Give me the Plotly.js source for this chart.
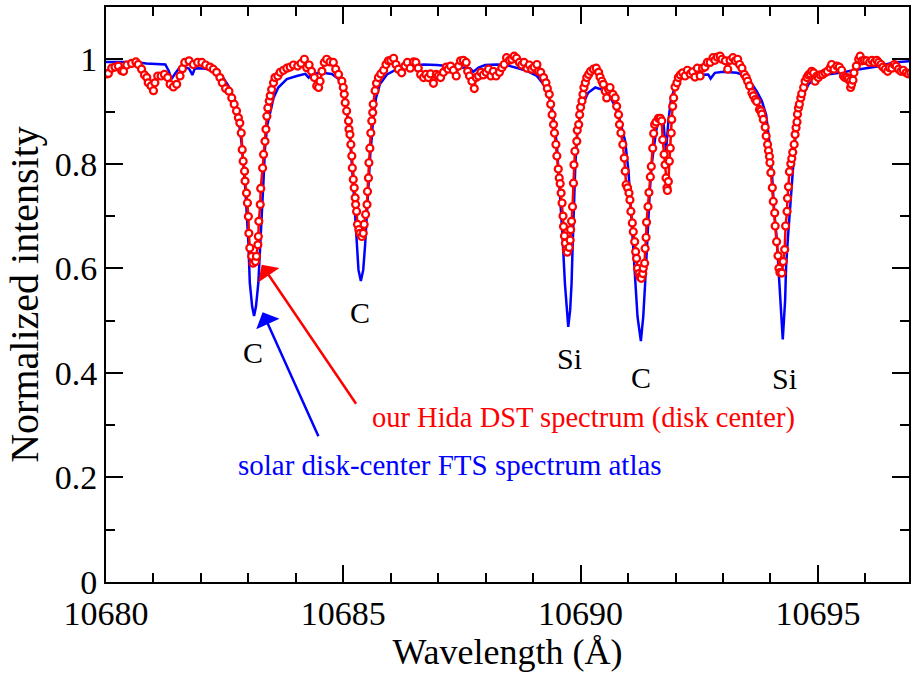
<!DOCTYPE html>
<html>
<head>
<meta charset="utf-8">
<script src="https://cdn.plot.ly/plotly-3.0.1.min.js"></script>
<style>html,body{margin:0;padding:0;background:#fff;}#chart{width:912px;height:675px;}</style>
</head>
<body>
<div id="chart"></div>
<script>
// FTS atlas (blue)
const ftsWavelength = [10680.00,10680.30,10680.60,10680.85,10681.10,10681.25,10681.32,10681.38,10681.45,10681.55,10681.63,10681.75,10681.82,10681.87,10681.95,10682.10,10682.30,10682.44,10682.58,10682.72,10682.79,10682.86,10682.93,10683.00,10683.03,10683.08,10683.12,10683.16,10683.21,10683.25,10683.28,10683.32,10683.35,10683.40,10683.46,10683.53,10683.63,10683.81,10684.02,10684.20,10684.27,10684.34,10684.55,10684.76,10684.90,10685.00,10685.07,10685.14,10685.21,10685.25,10685.28,10685.32,10685.37,10685.42,10685.46,10685.49,10685.53,10685.57,10685.60,10685.63,10685.69,10685.77,10685.92,10686.13,10686.41,10686.69,10686.97,10687.25,10687.53,10687.67,10687.74,10687.85,10687.99,10688.23,10688.44,10688.66,10688.87,10689.08,10689.22,10689.32,10689.41,10689.50,10689.57,10689.62,10689.67,10689.71,10689.74,10689.78,10689.81,10689.83,10689.86,10689.89,10689.93,10689.99,10690.06,10690.16,10690.31,10690.45,10690.59,10690.73,10690.83,10690.94,10691.01,10691.07,10691.12,10691.16,10691.20,10691.27,10691.32,10691.36,10691.39,10691.43,10691.46,10691.50,10691.53,10691.59,10691.64,10691.70,10691.75,10691.80,10691.85,10691.90,10691.99,10692.10,10692.31,10692.59,10692.69,10692.74,10692.83,10693.01,10693.29,10693.43,10693.57,10693.71,10693.82,10693.91,10693.98,10694.03,10694.08,10694.13,10694.17,10694.20,10694.26,10694.31,10694.33,10694.37,10694.43,10694.49,10694.54,10694.61,10694.70,10694.80,10694.94,10695.19,10695.47,10695.75,10696.03,10696.31,10696.59,10696.87,10697.00];
const ftsIntensity = [0.995,0.995,0.995,0.992,0.991,0.990,0.978,0.962,0.972,0.984,0.986,0.982,0.970,0.982,0.983,0.982,0.977,0.968,0.949,0.920,0.888,0.837,0.760,0.650,0.572,0.527,0.509,0.527,0.572,0.635,0.699,0.770,0.830,0.875,0.900,0.926,0.946,0.962,0.968,0.972,0.965,0.972,0.974,0.972,0.962,0.940,0.900,0.850,0.760,0.700,0.645,0.597,0.576,0.597,0.645,0.699,0.763,0.820,0.850,0.888,0.926,0.952,0.971,0.981,0.987,0.990,0.989,0.987,0.985,0.983,0.976,0.984,0.989,0.990,0.989,0.984,0.978,0.968,0.952,0.933,0.901,0.837,0.741,0.660,0.571,0.520,0.488,0.520,0.571,0.635,0.730,0.800,0.860,0.894,0.917,0.936,0.946,0.942,0.933,0.910,0.882,0.843,0.785,0.700,0.620,0.560,0.507,0.461,0.507,0.571,0.630,0.699,0.750,0.800,0.825,0.862,0.885,0.893,0.875,0.824,0.881,0.920,0.949,0.965,0.970,0.970,0.971,0.963,0.974,0.976,0.974,0.970,0.958,0.939,0.920,0.894,0.840,0.785,0.709,0.660,0.603,0.539,0.464,0.539,0.603,0.660,0.741,0.818,0.869,0.907,0.933,0.952,0.965,0.971,0.974,0.979,0.983,0.987,0.994,0.997,0.997];

// Hida DST spectrum (red)
const dstWavelength = [10680.02,10680.05,10680.12,10680.19,10680.26,10680.33,10680.37,10680.44,10680.54,10680.63,10680.68,10680.75,10680.81,10680.86,10680.89,10680.95,10681.00,10681.03,10681.09,10681.16,10681.23,10681.30,10681.35,10681.42,10681.49,10681.56,10681.61,10681.66,10681.75,10681.84,10681.93,10682.02,10682.10,10682.19,10682.26,10682.33,10682.40,10682.45,10682.52,10682.59,10682.65,10682.70,10682.75,10682.79,10682.82,10682.85,10682.87,10682.89,10682.92,10682.93,10682.96,10682.98,10683.00,10683.01,10683.03,10683.07,10683.10,10683.15,10683.17,10683.20,10683.21,10683.22,10683.25,10683.26,10683.30,10683.32,10683.35,10683.37,10683.39,10683.41,10683.44,10683.46,10683.49,10683.53,10683.56,10683.62,10683.67,10683.74,10683.81,10683.88,10683.95,10684.04,10684.11,10684.18,10684.23,10684.28,10684.33,10684.39,10684.44,10684.48,10684.51,10684.55,10684.60,10684.65,10684.72,10684.79,10684.84,10684.90,10684.97,10685.00,10685.02,10685.04,10685.07,10685.11,10685.12,10685.14,10685.16,10685.18,10685.19,10685.21,10685.23,10685.25,10685.26,10685.28,10685.30,10685.33,10685.35,10685.39,10685.42,10685.44,10685.47,10685.50,10685.51,10685.53,10685.54,10685.56,10685.58,10685.60,10685.62,10685.63,10685.67,10685.70,10685.74,10685.79,10685.85,10685.90,10685.95,10686.00,10686.06,10686.11,10686.16,10686.23,10686.30,10686.35,10686.41,10686.48,10686.53,10686.58,10686.63,10686.69,10686.74,10686.79,10686.84,10686.90,10686.96,10687.00,10687.05,10687.11,10687.17,10687.21,10687.26,10687.32,10687.38,10687.43,10687.47,10687.53,10687.59,10687.62,10687.66,10687.71,10687.76,10687.80,10687.85,10687.90,10687.95,10688.01,10688.06,10688.11,10688.16,10688.22,10688.29,10688.34,10688.39,10688.44,10688.50,10688.55,10688.60,10688.65,10688.71,10688.76,10688.81,10688.87,10688.92,10688.97,10689.02,10689.08,10689.11,10689.16,10689.22,10689.27,10689.30,10689.34,10689.37,10689.40,10689.43,10689.45,10689.48,10689.50,10689.53,10689.55,10689.57,10689.59,10689.61,10689.63,10689.64,10689.66,10689.68,10689.70,10689.72,10689.76,10689.78,10689.79,10689.81,10689.83,10689.85,10689.86,10689.88,10689.92,10689.93,10689.96,10689.98,10690.00,10690.03,10690.05,10690.07,10690.10,10690.13,10690.17,10690.21,10690.27,10690.33,10690.38,10690.41,10690.45,10690.48,10690.52,10690.55,10690.59,10690.62,10690.68,10690.73,10690.76,10690.80,10690.82,10690.85,10690.89,10690.92,10690.94,10690.96,10690.99,10691.02,10691.04,10691.06,10691.09,10691.11,10691.14,10691.16,10691.18,10691.20,10691.23,10691.25,10691.28,10691.31,10691.32,10691.35,10691.36,10691.38,10691.39,10691.42,10691.44,10691.47,10691.49,10691.52,10691.54,10691.56,10691.59,10691.64,10691.68,10691.71,10691.73,10691.76,10691.78,10691.80,10691.82,10691.83,10691.85,10691.87,10691.89,10691.91,10691.92,10691.94,10691.96,10691.99,10692.03,10692.06,10692.10,10692.15,10692.20,10692.25,10692.31,10692.36,10692.41,10692.46,10692.52,10692.57,10692.62,10692.67,10692.73,10692.79,10692.83,10692.88,10692.94,10692.98,10693.05,10693.10,10693.15,10693.21,10693.26,10693.31,10693.35,10693.40,10693.45,10693.49,10693.52,10693.56,10693.61,10693.64,10693.68,10693.71,10693.77,10693.80,10693.82,10693.85,10693.89,10693.91,10693.94,10693.96,10693.98,10693.99,10694.01,10694.04,10694.06,10694.09,10694.10,10694.13,10694.16,10694.18,10694.20,10694.24,10694.27,10694.30,10694.32,10694.35,10694.36,10694.38,10694.40,10694.43,10694.45,10694.47,10694.50,10694.52,10694.54,10694.56,10694.57,10694.59,10694.61,10694.64,10694.66,10694.70,10694.73,10694.77,10694.80,10694.84,10694.87,10694.91,10694.94,10694.98,10695.01,10695.05,10695.10,10695.15,10695.20,10695.26,10695.29,10695.34,10695.40,10695.45,10695.50,10695.54,10695.57,10695.61,10695.64,10695.68,10695.69,10695.71,10695.74,10695.76,10695.81,10695.86,10695.89,10695.93,10695.98,10696.03,10696.09,10696.14,10696.19,10696.24,10696.28,10696.33,10696.37,10696.42,10696.47,10696.51,10696.56,10696.61,10696.65,10696.70,10696.75,10696.80,10696.86,10696.91,10696.96];
const dstIntensity = [0.972,0.973,0.983,0.985,0.987,0.978,0.977,0.989,0.992,0.995,0.990,0.981,0.970,0.965,0.955,0.949,0.940,0.955,0.968,0.968,0.971,0.965,0.952,0.947,0.952,0.968,0.982,0.994,0.997,0.990,0.994,0.994,0.989,0.985,0.981,0.975,0.965,0.955,0.944,0.939,0.926,0.914,0.901,0.888,0.878,0.859,0.827,0.805,0.786,0.767,0.744,0.725,0.699,0.667,0.639,0.623,0.610,0.613,0.623,0.645,0.661,0.690,0.722,0.753,0.792,0.818,0.843,0.866,0.891,0.907,0.920,0.930,0.942,0.955,0.965,0.968,0.975,0.979,0.983,0.985,0.989,0.987,0.992,1.000,0.984,0.989,0.977,0.965,0.949,0.946,0.958,0.977,0.994,1.000,0.995,0.994,0.981,0.971,0.958,0.946,0.933,0.917,0.901,0.882,0.866,0.856,0.837,0.815,0.792,0.770,0.754,0.735,0.722,0.709,0.684,0.674,0.667,0.661,0.667,0.684,0.703,0.722,0.747,0.773,0.802,0.830,0.859,0.882,0.898,0.914,0.940,0.954,0.965,0.972,0.979,0.990,0.997,0.998,1.002,0.990,0.981,0.974,0.987,0.994,0.983,0.995,0.994,0.983,0.971,0.965,0.971,0.965,0.972,0.954,0.971,0.968,0.965,0.975,0.985,0.981,0.987,0.979,0.968,0.987,0.997,0.998,0.994,0.977,0.968,0.958,0.944,0.965,0.968,0.975,0.970,0.975,0.981,0.968,0.977,0.968,0.975,0.984,0.990,1.003,0.998,1.000,1.006,1.002,0.994,0.989,0.994,0.983,0.989,0.981,0.985,0.990,0.977,0.975,0.965,0.955,0.944,0.933,0.914,0.894,0.875,0.859,0.837,0.815,0.790,0.773,0.762,0.744,0.725,0.700,0.680,0.662,0.648,0.635,0.631,0.640,0.654,0.674,0.690,0.718,0.763,0.798,0.824,0.843,0.864,0.875,0.894,0.908,0.920,0.933,0.946,0.955,0.965,0.971,0.977,0.981,0.983,0.975,0.966,0.958,0.952,0.939,0.926,0.942,0.946,0.933,0.926,0.910,0.894,0.875,0.859,0.837,0.811,0.786,0.760,0.754,0.744,0.731,0.709,0.687,0.670,0.651,0.632,0.619,0.600,0.590,0.584,0.581,0.590,0.600,0.610,0.638,0.659,0.688,0.718,0.745,0.775,0.795,0.830,0.858,0.875,0.880,0.887,0.887,0.882,0.846,0.818,0.798,0.773,0.754,0.749,0.766,0.805,0.830,0.859,0.885,0.910,0.926,0.947,0.955,0.965,0.970,0.974,0.968,0.979,0.972,0.976,0.966,0.983,0.968,0.983,0.985,0.994,0.994,1.003,0.998,1.004,1.006,1.000,0.997,0.981,0.998,1.003,0.997,1.000,0.990,0.983,0.971,0.965,0.958,0.949,0.936,0.930,0.923,0.919,0.904,0.901,0.895,0.885,0.870,0.853,0.837,0.825,0.814,0.802,0.783,0.754,0.728,0.706,0.681,0.651,0.624,0.600,0.592,0.591,0.613,0.636,0.681,0.709,0.734,0.756,0.785,0.800,0.810,0.822,0.837,0.856,0.869,0.880,0.895,0.907,0.914,0.926,0.934,0.946,0.958,0.965,0.970,0.972,0.977,0.974,0.958,0.968,0.965,0.970,0.971,0.974,0.977,0.984,0.990,0.981,0.987,0.985,0.979,0.968,0.965,0.965,0.962,0.958,0.946,0.952,0.960,0.974,0.987,1.000,1.006,0.997,0.998,0.997,0.994,0.998,0.994,0.998,0.994,0.990,0.985,0.981,0.977,0.984,0.983,0.990,0.987,0.981,0.977,0.979,0.974,0.972,0.974];

// Line identifications
const lineLabels = ["C", "C", "Si", "C", "Si"];
const lineLabelX = [10683.10, 10685.35, 10689.76, 10691.27, 10694.29];
const lineLabelY = [0.44, 0.516, 0.428, 0.392, 0.390];

const serif = "Liberation Serif";
const RED = "rgb(255,0,0)";
const BLUE = "rgb(0,0,255)";

const traces = [
  {x: ftsWavelength, y: ftsIntensity, type: "scatter", mode: "lines",
   line: {color: BLUE, width: 2.5}, name: "FTS atlas", hoverinfo: "x+y"},
  {x: dstWavelength, y: dstIntensity, type: "scatter", mode: "lines+markers",
   line: {color: RED, width: 2.5},
   marker: {symbol: "circle", size: 7, color: "white", line: {color: RED, width: 2.2}},
   name: "Hida DST", hoverinfo: "x+y"}
];

const annotations = lineLabels.map((t, i) => ({
  x: lineLabelX[i], y: lineLabelY[i], xref: "x", yref: "y", text: t,
  showarrow: false, font: {family: serif, size: 30, color: "black"}
}));
annotations.push(
  {x: 10690.07, y: 0.313, xref: "x", yref: "y", text: "our Hida DST spectrum (disk center)",
   showarrow: false, font: {family: serif, size: 28.5, color: RED}},
  {x: 10687.25, y: 0.223, xref: "x", yref: "y", text: "solar disk-center FTS spectrum atlas",
   showarrow: false, font: {family: serif, size: 29, color: BLUE}},
  {x: 10683.28, y: 0.607, xref: "x", yref: "y", ax: 10685.29, ay: 0.338, axref: "x", ayref: "y",
   text: "", showarrow: true, arrowhead: 1, arrowsize: 1.7, arrowwidth: 2.5, arrowcolor: RED},
  {x: 10683.30, y: 0.516, xref: "x", yref: "y", ax: 10684.49, ay: 0.276, axref: "x", ayref: "y",
   text: "", showarrow: true, arrowhead: 1, arrowsize: 1.7, arrowwidth: 2.5, arrowcolor: BLUE}
);

const axisCommon = {
  showline: true, linecolor: "black", linewidth: 2, mirror: "ticks",
  ticks: "inside", ticklen: 17, tickwidth: 2, tickcolor: "black",
  showgrid: false, zeroline: false,
  tickfont: {family: serif, size: 34, color: "black"}
};

const layout = {
  width: 912, height: 675,
  margin: {l: 106, r: 3, t: 7, b: 93},
  paper_bgcolor: "white", plot_bgcolor: "white",
  showlegend: false,
  font: {family: serif, color: "black"},
  xaxis: Object.assign({}, axisCommon, {
    range: [10680, 10696.92], tick0: 10680, dtick: 5, tickformat: "d",
    minor: {dtick: 1, tick0: 10680, ticks: "inside", ticklen: 9, tickwidth: 2, tickcolor: "black", showgrid: false},
    title: {text: "Wavelength (Å)", font: {family: serif, size: 36, color: "black"}, standoff: 6}
  }),
  yaxis: Object.assign({}, axisCommon, {
    range: [0, 1.1], tick0: 0, dtick: 0.2,
    minor: {dtick: 0.1, tick0: 0, ticks: "inside", ticklen: 9, tickwidth: 2, tickcolor: "black", showgrid: false},
    title: {text: "Normalized intensity", font: {family: serif, size: 40, color: "black"}, standoff: 4}
  }),
  annotations: annotations
};

Plotly.newPlot("chart", traces, layout, {displayModeBar: false, staticPlot: true});
</script>
</body>
</html>
